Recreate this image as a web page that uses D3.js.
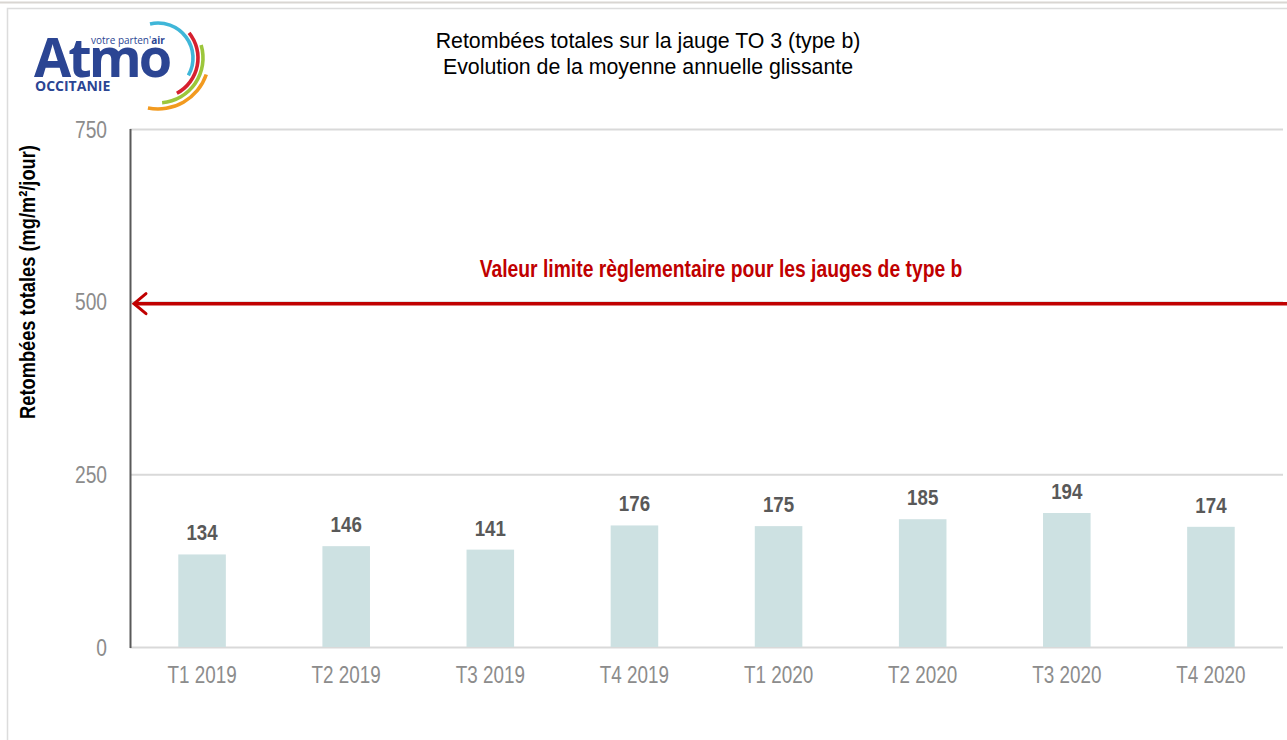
<!DOCTYPE html>
<html>
<head>
<meta charset="utf-8">
<script src="https://cdn.jsdelivr.net/npm/d3@7"></script>
<style>
  body { margin: 0; background: #fff; }
  svg { display: block; }
  text { font-family: "Liberation Sans", Arial, sans-serif; }
</style>
</head>
<body>
<div id="chart"></div>
<script>
// data
const periods = ["T1 2019", "T2 2019", "T3 2019", "T4 2019", "T1 2020", "T2 2020", "T3 2020", "T4 2020"];
const values = [134, 146, 141, 176, 175, 185, 194, 174];
const yTicks = [0, 250, 500, 750];
const limitValue = 500;
const limitLabel = "Valeur limite règlementaire pour les jauges de type b";

const W = 1287, H = 740;
const margin = { left: 130, right: 4, top: 129, bottom: 93 };
const NARROW = 0.82; // no Arial Narrow here, so squeeze Liberation Sans

// places a text at (x, y) squeezed horizontally
function placeNarrow(sel, fx, fy, sx) {
    return sel.attr("transform", (d, i) => `translate(${fx(d, i)},${fy(d, i)}) scale(${sx},1)`);
}

let svg = d3.select("#chart").append("svg")
    .attr("width", W)
    .attr("height", H);

// outer frame
svg.append("line").attr("x1", 0).attr("x2", W).attr("y1", 2.5).attr("y2", 2.5)
    .attr("stroke", "#d9d6d2").attr("stroke-width", 2);
svg.append("path").attr("d", `M7.5,${H} V8.5 H${W}`)
    .attr("fill", "none").attr("stroke", "#dcdcdc").attr("stroke-width", 1.5);

let x = d3.scaleBand()
    .domain(periods)
    .range([margin.left, W - margin.right])
    .paddingInner(0.67)
    .paddingOuter(0.335);

let y = d3.scaleLinear()
    .domain([0, 750])
    .range([H - margin.bottom, margin.top]);

// gridlines
svg.append("g").selectAll("line")
    .data(yTicks)
    .join("line")
    .attr("x1", margin.left).attr("x2", W - margin.right)
    .attr("y1", d => y(d) + 0.5).attr("y2", d => y(d) + 0.5)
    .attr("stroke", "#d9d9d9").attr("stroke-width", 2);

// y tick labels
svg.append("g").selectAll("text")
    .data(yTicks)
    .join("text")
    .call(placeNarrow, () => 107, d => y(d) + 8.5, 0.8)
    .attr("text-anchor", "end")
    .attr("fill", "#8c8c8c")
    .style("font-size", "24px")
    .text(d => d);

// bars
svg.append("g").selectAll("rect")
    .data(values)
    .join("rect")
    .attr("x", (d, i) => x(periods[i]))
    .attr("y", d => y(d))
    .attr("width", x.bandwidth())
    .attr("height", d => y(0) - y(d))
    .attr("fill", "#cde1e2");

// value labels
svg.append("g").selectAll("text")
    .data(values)
    .join("text")
    .call(placeNarrow, (d, i) => x(periods[i]) + x.bandwidth() / 2, d => y(d) - 14, 0.85)
    .attr("text-anchor", "middle")
    .attr("fill", "#595959")
    .style("font-size", "22px")
    .style("font-weight", "bold")
    .text(d => d);

// x axis labels
svg.append("g").selectAll("text")
    .data(periods)
    .join("text")
    .call(placeNarrow, d => x(d) + x.bandwidth() / 2, () => y(0) + 36, NARROW)
    .attr("text-anchor", "middle")
    .attr("fill", "#8c8c8c")
    .style("font-size", "23px")
    .text(d => d);

// y axis line
svg.append("line")
    .attr("x1", margin.left + 0.5).attr("x2", margin.left + 0.5)
    .attr("y1", y(750)).attr("y2", y(0) + 1)
    .attr("stroke", "#595959").attr("stroke-width", 2);

// y axis title
svg.append("text")
    .attr("transform", "translate(35,282) rotate(-90) scale(0.83,1)")
    .attr("text-anchor", "middle")
    .attr("fill", "#000")
    .style("font-size", "22px")
    .style("font-weight", "bold")
    .text("Retombées totales (mg/m²/jour)");

// limit arrow
let ly = y(limitValue) + 2;
svg.append("line")
    .attr("x1", margin.left + 4).attr("x2", W)
    .attr("y1", ly).attr("y2", ly)
    .attr("stroke", "#c00000").attr("stroke-width", 3.5);
svg.append("path")
    .attr("d", `M${margin.left + 16},${ly - 10} L${margin.left + 4},${ly} L${margin.left + 16},${ly + 10}`)
    .attr("fill", "none").attr("stroke", "#c00000").attr("stroke-width", 3)
    .attr("stroke-linecap", "round");
svg.append("text")
    .attr("transform", `translate(721,${ly - 27}) scale(0.84,1)`)
    .attr("text-anchor", "middle")
    .attr("fill", "#c00000")
    .style("font-size", "23px")
    .style("font-weight", "bold")
    .text(limitLabel);

// title
let title = svg.append("g").attr("transform", "translate(648,0) scale(0.97,1)")
    .append("text")
    .attr("text-anchor", "middle")
    .attr("fill", "#000")
    .style("font-size", "22px");
title.append("tspan").attr("x", 0).attr("y", 48).text("Retombées totales sur la jauge TO 3 (type b)");
title.append("tspan").attr("x", 0).attr("y", 74).text("Evolution de la moyenne annuelle glissante");

// logo
let logo = svg.append("g");
let arc = d3.arc();
const arcs = [
    { r: 35, a0: -0.23, a1: 2.09, c: "#3fb6d8" },
    { r: 40, a0: 0.89, a1: 2.65, c: "#d6202f" },
    { r: 45, a0: 1.28, a1: 3.05, c: "#9cc63b" },
    { r: 51, a0: 1.9, a1: 3.34, c: "#f29a1f" }
];
logo.append("g").attr("transform", "translate(158,58)")
    .selectAll("path")
    .data(arcs)
    .join("path")
    .attr("d", d => arc({ innerRadius: d.r - 1.8, outerRadius: d.r + 1.8, startAngle: d.a0, endAngle: d.a1, cornerRadius: 1.8 }))
    .attr("fill", d => d.c);
logo.append("text")
    .attr("x", 34).attr("y", 77)
    .attr("fill", "#2b4593")
    .style("font-family", "'Open Sans', 'DejaVu Sans', sans-serif")
    .style("font-size", "54px")
    .style("font-weight", "bold")
    .style("letter-spacing", "-3px")
    .text("Atmo");
let tag = logo.append("text")
    .attr("x", 91).attr("y", 44)
    .attr("fill", "#2b4593")
    .style("font-family", "'Open Sans', 'DejaVu Sans', sans-serif")
    .style("font-size", "10px");
tag.append("tspan").text("votre parten'");
tag.append("tspan").style("font-weight", "bold").text("air");
logo.append("text")
    .attr("x", 35).attr("y", 91)
    .attr("fill", "#2b4593")
    .style("font-family", "'Open Sans', 'DejaVu Sans', sans-serif")
    .style("font-size", "14px")
    .style("font-weight", "bold")
    .text("OCCITANIE");
</script>
</body>
</html>
